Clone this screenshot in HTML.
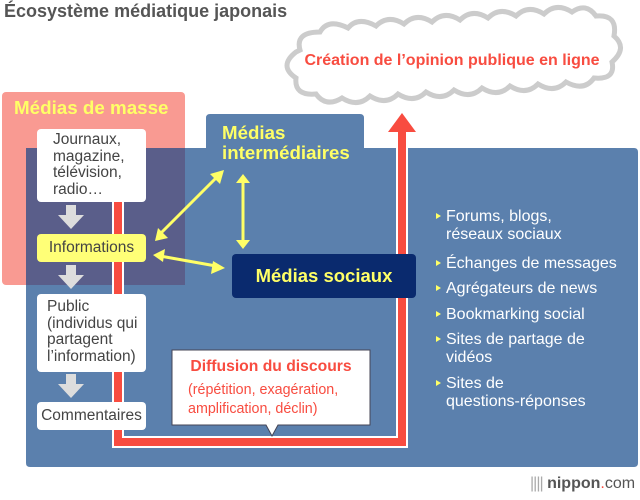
<!DOCTYPE html>
<html><head><meta charset="utf-8"><style>
body{margin:0;width:640px;height:500px;background:#fff;position:relative;overflow:hidden;font-family:"Liberation Sans",sans-serif}
.a{position:absolute;white-space:nowrap}
.wb{position:absolute;background:#fff;border-radius:4px;color:#444;font-size:15.5px;line-height:16.5px;box-sizing:border-box;white-space:nowrap}
.li{position:absolute;left:436px;color:#fff;font-size:16px;line-height:18px;white-space:nowrap}
.li:before{content:"";position:absolute;left:0;top:5px;border-left:5px solid #ffff66;border-top:3.5px solid transparent;border-bottom:3.5px solid transparent}
.li span{display:block;padding-left:10px}
</style></head><body>
<div class="a" style="left:4px;top:1px;font-size:18px;font-weight:bold;color:#555">Écosystème médiatique japonais</div>
<svg class="a" style="left:0;top:0" width="640" height="500">
<g fill="#fff" stroke="#ccc" stroke-width="5">
<path d="M300,50 q-5,-18 20,-18 q8,-14 28,-4 q10,-12 28,-2 q12,-12 28,-2 q12,-12 28,-2 q12,-12 28,-2 q12,-12 28,-2 q12,-12 28,-2 q12,-12 28,-2 q12,-12 28,-2 q14,-10 24,4 q22,-2 18,20 q14,12 -2,26 q4,18 -18,16 q-10,14 -28,4 q-12,12 -28,2 q-12,12 -28,2 q-12,12 -28,2 q-12,12 -28,2 q-12,12 -28,2 q-12,12 -28,2 q-12,12 -28,2 q-12,12 -28,2 q-16,10 -26,-4 q-22,2 -20,-16 q-18,-12 0,-26z"/>
</g>
<rect x="2" y="92" width="183" height="193" rx="4" fill="#f99a92"/>
<path d="M26,152 q0,-4 4,-4 h176 v-30 q0,-4 4,-4 h150 q4,0 4,4 v30 h270 q4,0 4,4 v311 q0,4 -4,4 h-604 q-4,0 -4,-4z" fill="#5b80ad"/>
<rect x="26" y="148" width="159" height="137" fill="#5a5e8a"/>
<path d="M118,202 V442 H402 V128" fill="none" stroke="#fff" stroke-width="12"/>
<path d="M118,202 V442 H402 V128" fill="none" stroke="#f84c40" stroke-width="8"/>
<polygon points="388,132 402,113 416,132" fill="#f84c40"/>
<g fill="#ddd">
<path d="M66,205 h10 v10 h8 l-13,14 l-13,-14 h8z"/>
<path d="M66,265 h10 v10 h8 l-13,14 l-13,-14 h8z"/>
<path d="M66,374 h10 v10 h8 l-13,14 l-13,-14 h8z"/>
</g>
<g stroke="#ffff66" stroke-width="3" fill="#ffff66">
<line x1="160" y1="234" x2="218" y2="176"/>
<line x1="243" y1="182" x2="243" y2="241"/>
<line x1="160" y1="256" x2="216" y2="266"/>
</g>
<g fill="#ffff66">
<polygon points="155,241 158,228 168,238"/>
<polygon points="224,170 210,174 220,184"/>
<polygon points="236,183 243,174 250,183"/>
<polygon points="236,240 243,249 250,240"/>
<polygon points="153,255 165,249 163,262"/>
<polygon points="225,268 213,261 211,274"/>
</g>
<path d="M172,350 h198 v75 h-92 l-6,11 l-6,-11 h-94z" fill="#fff" stroke="#445" stroke-width="1"/>
</svg>
<div class="a" style="left:14px;top:97px;font-size:18.8px;font-weight:bold;color:#ffff66">Médias de masse</div>
<div class="a" style="left:222px;top:123px;font-size:18.7px;font-weight:bold;color:#ffff66;line-height:20px">Médias<br>intermédiaires</div>
<div class="a" style="left:300px;top:52px;width:304px;text-align:center;font-size:16px;font-weight:bold;color:#f84c40">Création de l’opinion publique en ligne</div>
<div class="wb" style="left:37px;top:129px;width:109px;height:73px;padding:3px 0 0 16px">Journaux,<br>magazine,<br>télévision,<br>radio…</div>
<div class="wb" style="left:37px;top:234px;width:109px;height:28px;background:#ffff77;text-align:center;line-height:28px">Informations</div>
<div class="wb" style="left:37px;top:294px;width:109px;height:78px;padding:5px 0 0 10px">Public<br>(individus qui<br>partagent<br>l’information)</div>
<div class="wb" style="left:37px;top:402px;width:109px;height:28px;text-align:center;line-height:28px">Commentaires</div>
<div class="a" style="left:232px;top:254px;width:184px;height:44px;background:#0a2a6e;border-radius:4px;color:#ffff66;font-weight:bold;font-size:18.5px;text-align:center;line-height:44px">Médias sociaux</div>
<div class="a" style="left:172px;top:358px;width:198px;text-align:center;color:#f84c40;font-size:15.7px;font-weight:bold">Diffusion du discours</div>
<div class="a" style="left:188px;top:381px;color:#f84c40;font-size:14.3px;line-height:19px">(répétition, exagération,<br>amplification, déclin)</div>
<div class="li" style="top:208px"><span>Forums, blogs,<br>réseaux sociaux</span></div>
<div class="li" style="top:255px"><span>Échanges de messages</span></div>
<div class="li" style="top:280px"><span>Agrégateurs de news</span></div>
<div class="li" style="top:306px"><span>Bookmarking social</span></div>
<div class="li" style="top:331px"><span>Sites de partage de<br>vidéos</span></div>
<div class="li" style="top:375px"><span>Sites de<br>questions-réponses</span></div>
<div class="a" style="left:530px;top:475px;font-size:16px;color:#555"><span style="letter-spacing:-1px;color:#aaa">||||</span> <b>nippon</b><span style="color:#f84c40">.</span>com</div>
</body></html>
